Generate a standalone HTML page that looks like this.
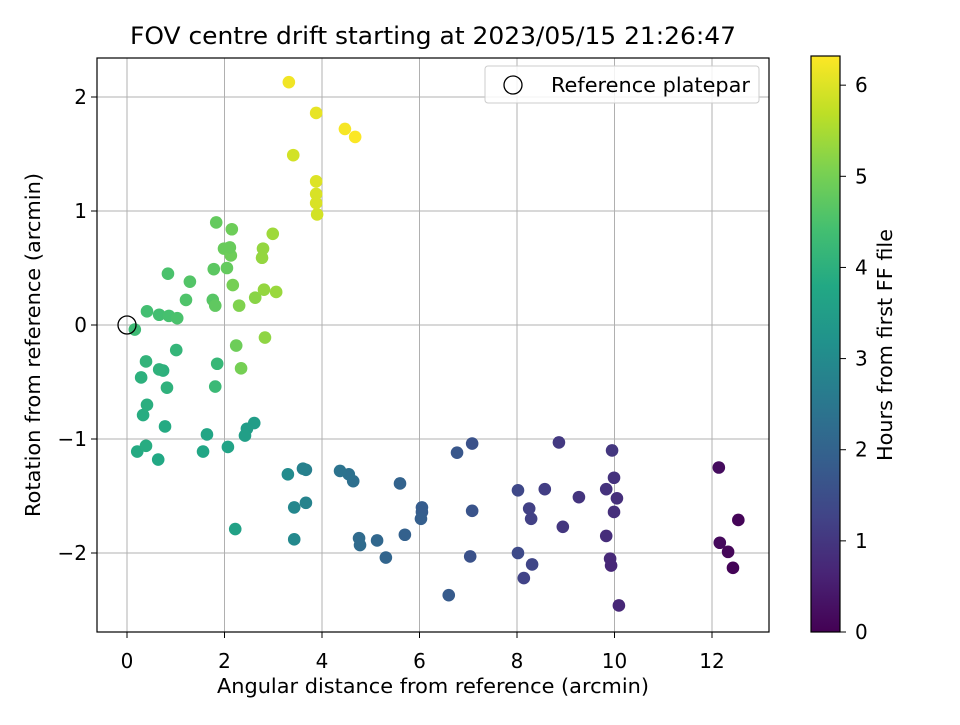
<!DOCTYPE html>
<html><head><meta charset="utf-8"><style>
body{margin:0;background:#fff}
svg text{font-family:"DejaVu Sans","Liberation Sans",sans-serif;fill:#000}
</style></head><body>
<svg id="chart" width="960" height="720" viewBox="0 0 960 720" xmlns="http://www.w3.org/2000/svg">
<defs><linearGradient id="vir" x1="0" y1="1" x2="0" y2="0">
<stop offset="0" stop-color="#440154"/><stop offset="0.1" stop-color="#482475"/><stop offset="0.2" stop-color="#414487"/><stop offset="0.3" stop-color="#355f8d"/><stop offset="0.4" stop-color="#2a788e"/><stop offset="0.5" stop-color="#21918c"/><stop offset="0.6" stop-color="#22a884"/><stop offset="0.7" stop-color="#44bf70"/><stop offset="0.8" stop-color="#7ad151"/><stop offset="0.9" stop-color="#bddf26"/><stop offset="1" stop-color="#fde725"/>
</linearGradient></defs>
<text x="433" y="44" font-size="24" text-anchor="middle" textLength="606" lengthAdjust="spacingAndGlyphs">FOV centre drift starting at 2023/05/15 21:26:47</text>
<g id="grid"></g>
<g id="ticks"></g>
<g id="points"></g>
<rect x="97" y="58" width="672" height="574" fill="none" stroke="#000" stroke-width="1.2"/>
<text x="433" y="693" font-size="20" text-anchor="middle" textLength="432" lengthAdjust="spacingAndGlyphs">Angular distance from reference (arcmin)</text>
<text transform="translate(40,345) rotate(-90)" font-size="20" text-anchor="middle" textLength="344" lengthAdjust="spacingAndGlyphs">Rotation from reference (arcmin)</text>
<g>
<rect x="485" y="66" width="274" height="37" rx="3" fill="#fff" fill-opacity="0.85" stroke="#ccc"/>
<circle cx="513" cy="85" r="9" fill="none" stroke="#000" stroke-width="1.3"/>
<text x="551" y="92" font-size="20" textLength="199" lengthAdjust="spacingAndGlyphs">Reference platepar</text>
</g>
<rect x="811" y="56" width="29" height="576" fill="url(#vir)" stroke="#000" stroke-width="1.2"/>
<g id="cbticks"></g>
<text transform="translate(892,345) rotate(-90)" font-size="20" text-anchor="middle" textLength="232" lengthAdjust="spacingAndGlyphs">Hours from first FF file</text>
</svg>
<script>
const xs=[12.14,12.16,12.33,12.54,12.43, 9.95,9.99,10.05,9.99,9.83,9.83,9.91,9.93,10.09,8.94,9.27,8.86,8.57,8.29,8.25,8.14,8.31,8.02,8.02,
7.08,6.77,7.08,7.04,6.6,6.05,6.05,6.03,5.70,5.60,5.31,5.13,4.76,4.78,4.64,4.55,4.37,
3.67,3.61,3.67,3.43,3.43,3.30,
2.61,2.46,2.42,2.22,2.07,1.64,1.56,0.64,0.78,0.21,0.33,0.39,0.41,0.29,0.74,0.82,0.66,0.39,1.01,2.24,2.34,1.85,1.81,
0.16,0.41,0.66,0.86,1.03,0.84,1.21,1.29,1.76,1.78,1.81,2.05,1.99,2.13,2.11,2.15,1.83,2.17,2.30,
2.63,2.81,3.06,2.79,2.77,2.99,2.83,
3.90,3.88,3.88,3.88,3.88,3.41,3.32,4.47,4.68];
const ys=[-1.25,-1.91,-1.99,-1.71,-2.13, -1.10,-1.34,-1.52,-1.64,-1.44,-1.85,-2.05,-2.11,-2.46,-1.77,-1.51,-1.03,-1.44,-1.70,-1.61,-2.22,-2.10,-1.45,-2.00,
-1.04,-1.12,-1.63,-2.03,-2.37,-1.60,-1.64,-1.70,-1.84,-1.39,-2.04,-1.89,-1.87,-1.93,-1.37,-1.31,-1.28,
-1.27,-1.26,-1.56,-1.60,-1.88,-1.31,
-0.86,-0.91,-0.97,-1.79,-1.07,-0.96,-1.11,-1.18,-0.89,-1.11,-0.79,-1.06,-0.70,-0.46,-0.40,-0.55,-0.39,-0.32,-0.22,-0.18,-0.38,-0.34,-0.54,
-0.04,0.12,0.09,0.08,0.06,0.45,0.22,0.38,0.22,0.49,0.17,0.50,0.67,0.61,0.68,0.84,0.90,0.35,0.17,
0.24,0.31,0.29,0.67,0.59,0.80,-0.11,
0.97,1.15,1.26,1.07,1.86,1.49,2.13,1.72,1.65];
const hours=[0.2,0.15,0.1,0.05,0.05, 1.0,0.9,0.85,0.85,0.9,0.8,0.75,0.7,0.7,1.0,0.95,1.05,1.15,1.2,1.2,1.25,1.3,1.35,1.4,
1.6,1.7,1.65,1.6,1.8,1.85,1.85,1.9,1.95,2.0,2.05,2.1,2.2,2.2,2.3,2.35,2.4,
2.7,2.75,2.8,2.9,2.95,3.0,
3.5,3.5,3.55,3.6,3.65,3.7,3.75,3.8,3.85,3.85,3.9,3.9,3.95,4.0,4.0,4.05,4.05,4.1,4.15,4.9,5.0,4.2,4.25,
4.3,4.4,4.4,4.45,4.5,4.5,4.55,4.6,4.65,4.7,4.75,4.8,4.85,4.9,4.85,4.9,4.8,5.0,5.1,
5.2,5.3,5.35,5.3,5.3,5.4,5.25,
5.9,5.95,6.0,5.95,6.1,5.9,6.2,6.25,6.3];
const xTicks=[0,2,4,6,8,10,12];
const yTicks=[-2,-1,0,1,2];
const cTicks=[0,1,2,3,4,5,6];
const NS="http://www.w3.org/2000/svg";
const X=v=>127+v*48.75, Y=v=>325-v*114, HMAX=6.32, C=h=>632-h/HMAX*576;
const stops=["#440154","#482475","#414487","#355f8d","#2a788e","#21918c","#22a884","#44bf70","#7ad151","#bddf26","#fde725"].map(s=>[1,3,5].map(i=>parseInt(s.substr(i,2),16)));
function vir(t){t=Math.max(0,Math.min(1,t))*10;const i=Math.min(9,Math.floor(t)),f=t-i;const a=stops[i],b=stops[i+1];return `rgb(${a.map((v,k)=>Math.round(v+(b[k]-v)*f)).join(',')})`;}
function mk(tag,attrs,parent,txt){const e=document.createElementNS(NS,tag);for(const k in attrs)e.setAttribute(k,attrs[k]);if(txt!=null)e.textContent=txt;document.getElementById(parent).appendChild(e);return e;}
xTicks.forEach(t=>{
const g=mk('line',{x1:X(t),x2:X(t),y1:58,y2:632,stroke:'#b0b0b0','stroke-width':1},'grid');


mk('line',{x1:X(t),x2:X(t),y1:632,y2:638,stroke:'#000'},'ticks');
const l=mk('text',{x:X(t),y:668,'font-size':20,'text-anchor':'middle'},'ticks',String(t));


});
yTicks.forEach(t=>{
const g=mk('line',{x1:97,x2:769,y1:Y(t),y2:Y(t),stroke:'#b0b0b0','stroke-width':1},'grid');


mk('line',{x1:91,x2:97,y1:Y(t),y2:Y(t),stroke:'#000'},'ticks');
const l=mk('text',{x:87,y:Y(t)+7,'font-size':20,'text-anchor':'end'},'ticks',t<0?'\u2212'+(-t):String(t));


});
cTicks.forEach(t=>{
mk('line',{x1:840,x2:846,y1:C(t),y2:C(t),stroke:'#000'},'cbticks');
const l=mk('text',{x:855,y:C(t)+7,'font-size':20},'cbticks',String(t));


});
xs.forEach((x,i)=>{
const p=mk('circle',{cx:X(x),cy:Y(ys[i]),r:6.3,fill:vir(hours[i]/HMAX)},'points');


});
const r=mk('circle',{cx:X(0),cy:Y(0),r:9,fill:'none',stroke:'#000','stroke-width':1.3},'points');


</script>
</body></html>
